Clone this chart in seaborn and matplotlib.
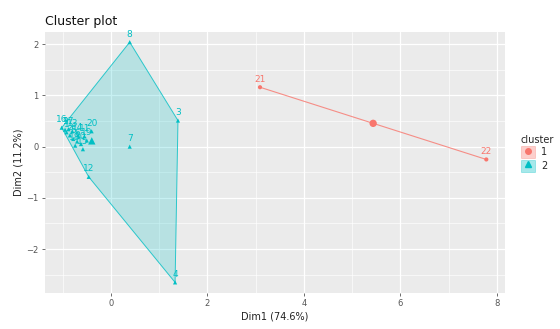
import matplotlib
matplotlib.use("Agg")
import matplotlib.pyplot as plt
import seaborn as sns
import pandas as pd
from matplotlib.lines import Line2D
from matplotlib.patches import Patch, Polygon
from matplotlib.legend_handler import HandlerTuple

# observation labels, PCA coordinates and cluster membership
obs_labels = [str(i) for i in range(1, 23)]
dim1 = [-0.92, -0.85, 1.39, 1.33, -0.78, -0.70, 0.39, 0.39, -0.95, -0.62, -0.55,
        -0.46, -0.80, -0.68, -0.58, -1.02, -0.88, -0.74, -0.50, -0.40, 3.09, 7.78]
dim2 = [0.28, 0.22, 0.51, -2.65, 0.15, 0.10, 0.00, 2.04, 0.33, 0.05, 0.20,
        -0.59, 0.30, 0.22, -0.05, 0.37, 0.34, 0.02, 0.12, 0.30, 1.16, -0.25]
cluster = ["2"] * 20 + ["1", "1"]

palette = {"1": "#F8766D", "2": "#00BFC4"}
markers = {"1": "o", "2": "^"}


def convex_hull(points):
    pts = sorted(set(points))
    if len(pts) <= 2:
        return pts

    def cross(o, a, b):
        return (a[0] - o[0]) * (b[1] - o[1]) - (a[1] - o[1]) * (b[0] - o[0])

    lower, upper = [], []
    for p in pts:
        while len(lower) >= 2 and cross(lower[-2], lower[-1], p) <= 0:
            lower.pop()
        lower.append(p)
    for p in reversed(pts):
        while len(upper) >= 2 and cross(upper[-2], upper[-1], p) <= 0:
            upper.pop()
        upper.append(p)
    return lower[:-1] + upper[:-1]


df = pd.DataFrame({"label": obs_labels, "Dim1": dim1, "Dim2": dim2, "cluster": cluster})

sns.set_theme(style="darkgrid", rc={
    "axes.facecolor": "#EBEBEB",
    "grid.color": "white",
    "axes.edgecolor": "#EBEBEB",
    "xtick.color": "#555555",
    "ytick.color": "#555555",
    "xtick.bottom": True,
    "ytick.left": True,
    "xtick.major.size": 2.5,
    "ytick.major.size": 2.5,
    "xtick.major.width": 0.6,
    "ytick.major.width": 0.6,
})
plt.rcParams["font.family"] = ["DejaVu Sans"]

fig = plt.figure(figsize=(5.6, 3.29), dpi=100)
ax = fig.add_axes([0.080, 0.109, 0.822, 0.794])

# hulls
for cl, grp in df.groupby("cluster"):
    hull = convex_hull(list(zip(grp["Dim1"], grp["Dim2"])))
    color = palette[cl]
    if len(hull) > 2:
        ax.add_patch(Polygon(hull, closed=True, facecolor=color, alpha=0.22,
                             edgecolor="none", zorder=1))
        ax.add_patch(Polygon(hull, closed=True, facecolor="none",
                             edgecolor=color, lw=0.7, alpha=0.8, zorder=1.5))
    else:
        xs, ys = zip(*hull)
        ax.plot(xs, ys, color=color, lw=0.8, alpha=0.8, zorder=1.5)

sns.scatterplot(data=df, x="Dim1", y="Dim2", hue="cluster", style="cluster",
                palette=palette, markers=markers, s=9, linewidth=0,
                legend=False, ax=ax, zorder=3)

# cluster centres
centers = df.groupby("cluster")[["Dim1", "Dim2"]].mean().reset_index()
sns.scatterplot(data=centers, x="Dim1", y="Dim2", hue="cluster", style="cluster",
                palette=palette, markers=markers, s=28, linewidth=0,
                legend=False, ax=ax, zorder=3)

for _, row in df.iterrows():
    ax.annotate(row["label"], (row["Dim1"], row["Dim2"]), xytext=(0, 2.5),
                textcoords="offset points", ha="center", va="bottom",
                fontsize=6.5, color=palette[row["cluster"]], zorder=4)

ax.set_xlim(-1.37, 8.17)
ax.set_ylim(-2.86, 2.24)
ax.set_xticks([0, 2, 4, 6, 8])
ax.set_yticks([-2, -1, 0, 1, 2])
ax.set_xticks([-1, 1, 3, 5, 7], minor=True)
ax.set_yticks([-2.5, -1.5, -0.5, 0.5, 1.5], minor=True)
ax.grid(which="major", color="white", lw=0.9)
ax.grid(which="minor", color="white", lw=0.45)
ax.tick_params(axis="both", which="major", labelsize=6, pad=2)
ax.tick_params(axis="both", which="minor", length=0)
ax.set_xlabel("Dim1 (74.6%)", fontsize=7, color="#222222", labelpad=2)
ax.set_ylabel("Dim2 (11.2%)", fontsize=7, color="#222222", labelpad=2)
ax.set_title("Cluster plot", fontsize=9, loc="left", color="#111111", pad=5)
for s in ax.spines.values():
    s.set_visible(False)

handles = []
for cl in ["1", "2"]:
    c = palette[cl]
    handles.append((Patch(facecolor=c, alpha=0.35, edgecolor=c, lw=0.6),
                    Line2D([], [], marker=markers[cl], color=c, linestyle="",
                           markersize=4)))
leg = fig.legend(handles, ["1", "2"], title="cluster", loc="upper left",
                 bbox_to_anchor=(0.93, 0.59), frameon=False, fontsize=7,
                 title_fontsize=7, handler_map={tuple: HandlerTuple(ndivide=1)},
                 handlelength=1.5, handleheight=1.5, labelspacing=0.15,
                 handletextpad=0.6, borderaxespad=0, borderpad=0)
leg._legend_box.align = "left"

fig.savefig("out.png", dpi=100)
